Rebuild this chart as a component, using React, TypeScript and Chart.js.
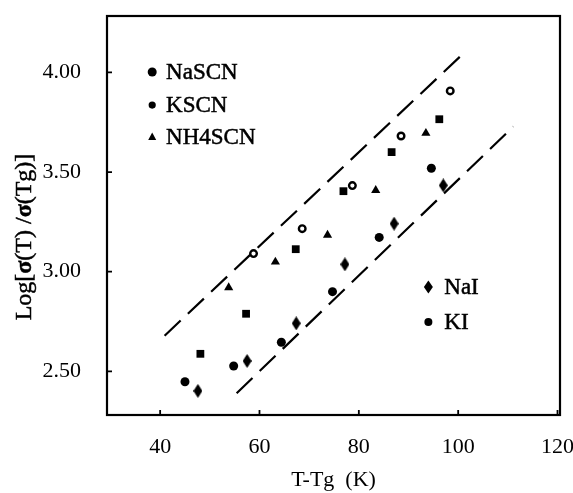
import React, { useEffect, useRef } from "react";
import { Chart, registerables } from "chart.js";

Chart.register(...registerables);

// ---- data ----
const xTickValues = [40, 60, 80, 100, 120];
const yTickValues = [2.5, 3.0, 3.5, 4.0];

const naSCN_x = [45.0, 54.8, 64.4, 74.7, 84.1, 94.6];
const naSCN_y = [2.448, 2.527, 2.646, 2.9, 3.172, 3.519];

const kSCN_x = [58.8, 68.6, 78.7, 88.5, 98.4];
const kSCN_y = [3.091, 3.216, 3.432, 3.681, 3.907];

const nh4SCN_x = [53.8, 63.2, 73.7, 83.4, 93.5];
const nh4SCN_y = [2.92, 3.049, 3.184, 3.408, 3.695];

const naI_x = [47.6, 57.5, 67.4, 77.2, 87.1, 97.0];
const naI_y = [2.402, 2.552, 2.741, 3.037, 3.241, 3.433];

const kI_x = [48.1, 57.3, 67.3, 76.9, 86.6, 96.2];
const kI_y = [2.588, 2.789, 3.113, 3.404, 3.6, 3.765];

const upperLine_x = [40.9, 100.7];
const upperLine_y = [2.679, 4.087];
const lowerLine_x = [55.4, 111.1];
const lowerLine_y = [2.39, 3.728];

const X_MIN = 29.3;
const X_MAX = 120.5;
const Y_MIN = 2.281;
const Y_MAX = 4.283;

const FONT = "'Liberation Serif', 'DejaVu Serif', serif";

function zip(xs: number[], ys: number[]) {
  return xs.map((x, i) => ({ x, y: ys[i] }));
}

function makeDiamond(w: number, h: number): HTMLCanvasElement {
  const c = document.createElement("canvas");
  c.width = w;
  c.height = h;
  const g = c.getContext("2d")!;
  g.fillStyle = "#000";
  g.beginPath();
  g.moveTo(w / 2, 0);
  g.lineTo(w, h / 2);
  g.lineTo(w / 2, h);
  g.lineTo(0, h / 2);
  g.closePath();
  g.fill();
  return c;
}

const legendTop = [
  { label: "NaSCN", shape: "bigdot" },
  { label: "KSCN", shape: "dot" },
  { label: "NH4SCN", shape: "tri" },
];
const legendBottom = [
  { label: "NaI", shape: "diamond" },
  { label: "KI", shape: "sq" },
];

function drawShape(ctx: CanvasRenderingContext2D, shape: string, x: number, y: number) {
  ctx.save();
  ctx.fillStyle = "#000";
  ctx.beginPath();
  if (shape === "bigdot") {
    ctx.arc(x, y, 4.5, 0, Math.PI * 2);
  } else if (shape === "dot") {
    ctx.arc(x, y, 3.6, 0, Math.PI * 2);
  } else if (shape === "tri") {
    ctx.moveTo(x, y - 4.5);
    ctx.lineTo(x + 4, y + 3);
    ctx.lineTo(x - 4, y + 3);
    ctx.closePath();
  } else if (shape === "diamond") {
    ctx.moveTo(x, y - 6.5);
    ctx.lineTo(x + 4.5, y);
    ctx.lineTo(x, y + 6.5);
    ctx.lineTo(x - 4.5, y);
    ctx.closePath();
  } else if (shape === "sq") {
    ctx.arc(x, y, 4, 0, Math.PI * 2);
  }
  ctx.fill();
  ctx.restore();
}

const decorPlugin = {
  id: "decor",
  afterDraw(chart: any) {
    const { ctx, chartArea } = chart;
    const xs = chart.scales.x;
    const ys = chart.scales.y;
    ctx.save();
    ctx.strokeStyle = "#000";
    ctx.lineWidth = 2.2;
    ctx.strokeRect(chartArea.left, chartArea.top, chartArea.right - chartArea.left, chartArea.bottom - chartArea.top);
    ctx.lineWidth = 1.8;
    ctx.beginPath();
    xTickValues.forEach((v) => {
      const px = xs.getPixelForValue(v);
      ctx.moveTo(px, chartArea.bottom);
      ctx.lineTo(px, chartArea.bottom - 5);
    });
    yTickValues.forEach((v) => {
      const py = ys.getPixelForValue(v);
      ctx.moveTo(chartArea.left, py);
      ctx.lineTo(chartArea.left + 5, py);
    });
    ctx.stroke();

    ctx.fillStyle = "#000";
    ctx.strokeStyle = "#000";
    ctx.lineWidth = 0.5;
    ctx.font = `23px ${FONT}`;
    ctx.textBaseline = "middle";
    ctx.textAlign = "left";
    const topY = [4.002, 3.836, 3.676];
    legendTop.forEach((it, i) => {
      const py = ys.getPixelForValue(topY[i]);
      drawShape(ctx, it.shape, xs.getPixelForValue(38.4), py);
      const tx = xs.getPixelForValue(41.2);
      ctx.fillText(it.label, tx, py + 1);
      ctx.strokeText(it.label, tx, py + 1);
    });
    const botY = [2.923, 2.748];
    legendBottom.forEach((it, i) => {
      const py = ys.getPixelForValue(botY[i]);
      drawShape(ctx, it.shape, xs.getPixelForValue(94.0), py);
      const tx = xs.getPixelForValue(97.2);
      ctx.fillText(it.label, tx, py + 1);
      ctx.strokeText(it.label, tx, py + 1);
    });

    const parts: [string, boolean][] = [
      ["Log[", false],
      ["σ", true],
      ["(T) /", false],
      ["σ", true],
      ["(Tg)]", false],
    ];
    const fs = 24;
    let total = 0;
    parts.forEach(([t, b]) => {
      ctx.font = `${b ? "bold " : ""}${fs}px ${FONT}`;
      total += ctx.measureText(t).width;
    });
    ctx.translate(25, 237);
    ctx.rotate(-Math.PI / 2);
    let cx = -total / 2;
    parts.forEach(([t, b]) => {
      ctx.font = `${b ? "bold " : ""}${fs}px ${FONT}`;
      ctx.fillText(t, cx, 0);
      ctx.strokeText(t, cx, 0);
      cx += ctx.measureText(t).width;
    });
    ctx.restore();
  },
};

export default function App() {
  const ref = useRef<HTMLCanvasElement | null>(null);
  useEffect(() => {
    document.body.style.margin = "0";
    const diamond = makeDiamond(9, 14);
    const base = {
      showLine: false,
      pointBorderColor: "#000",
      pointBackgroundColor: "#000",
    };
    const chart = new Chart(ref.current!, {
      type: "scatter",
      data: {
        datasets: [
          { ...base, label: "NaSCN", data: zip(naSCN_x, naSCN_y), pointStyle: "circle", pointRadius: 4.5, pointBorderWidth: 0 },
          { ...base, label: "KSCN", data: zip(kSCN_x, kSCN_y), pointStyle: "circle", pointRadius: 3.3, pointBorderWidth: 2.4, pointBackgroundColor: "#fff" },
          { ...base, label: "NH4SCN", data: zip(nh4SCN_x, nh4SCN_y), pointStyle: "triangle", pointRadius: 5.3, pointBorderWidth: 0 },
          { ...base, label: "NaI", data: zip(naI_x, naI_y), pointStyle: diamond as any, pointRadius: 6 },
          { ...base, label: "KI", data: zip(kI_x, kI_y), pointStyle: "rect", pointRadius: 5.5, pointBorderWidth: 0 },
          { label: "upper", data: zip(upperLine_x, upperLine_y), showLine: true, borderColor: "#000", borderWidth: 2.2, borderDash: [22, 10], pointRadius: 0, fill: false },
          { label: "lower", data: zip(lowerLine_x, lowerLine_y), showLine: true, borderColor: "#000", borderWidth: 2.2, borderDash: [22, 10], pointRadius: 0, fill: false },
        ] as any,
      },
      options: {
        animation: false,
        responsive: true,
        maintainAspectRatio: false,
        events: [],
        layout: { padding: { left: 0, top: 16, right: 13, bottom: 0 } },
        plugins: { legend: { display: false }, tooltip: { enabled: false } },
        scales: {
          x: {
            type: "linear",
            min: X_MIN,
            max: X_MAX,
            afterBuildTicks: (s: any) => {
              s.ticks = xTickValues.map((v) => ({ value: v }));
            },
            afterFit: (s: any) => {
              s.height = 78;
              s.paddingLeft = 0;
              s.paddingRight = 0;
              s.paddingTop = 0;
              s.paddingBottom = 0;
            },
            grid: { display: false, drawTicks: false },
            border: { display: false },
            ticks: {
              color: "#000",
              font: { family: FONT, size: 22 },
              padding: 19,
              maxRotation: 0,
              autoSkip: false,
              callback: (v: any) => String(v),
            },
            title: {
              display: true,
              text: "T-Tg  (K)",
              color: "#000",
              font: { family: FONT, size: 22 },
              padding: { top: 4, bottom: 0 },
            },
          },
          y: {
            type: "linear",
            min: Y_MIN,
            max: Y_MAX,
            afterBuildTicks: (s: any) => {
              s.ticks = yTickValues.map((v) => ({ value: v }));
            },
            afterFit: (s: any) => {
              s.width = 107;
              s.paddingLeft = 0;
              s.paddingRight = 0;
              s.paddingTop = 0;
              s.paddingBottom = 0;
            },
            grid: { display: false, drawTicks: false },
            border: { display: false },
            ticks: {
              color: "#000",
              font: { family: FONT, size: 22 },
              padding: 26,
              autoSkip: false,
              callback: (v: any) => Number(v).toFixed(2),
            },
          },
        },
      },
      plugins: [decorPlugin],
    });
    return () => chart.destroy();
  }, []);
  return (
    <div style={{ position: "fixed", left: 0, top: 0, width: 573, height: 493, background: "#fff" }}>
      <canvas ref={ref} />
    </div>
  );
}
